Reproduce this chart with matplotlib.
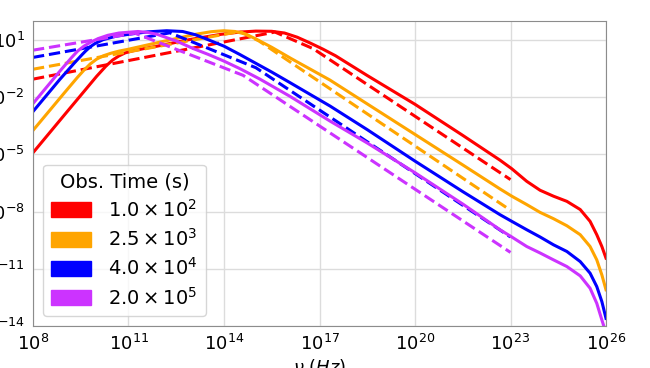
import numpy as np
import matplotlib
matplotlib.use('Agg')
import matplotlib.pyplot as plt
from matplotlib.patches import Patch

# values, as log10(nu) and log10(F)
times = ['$1.0 \\times 10^{2}$', '$2.5 \\times 10^{3}$', '$4.0 \\times 10^{4}$', '$2.0 \\times 10^{5}$']
colors = ['#ff0000', '#ffa500', '#0000ff', '#cc33ff']

# solid curves (full model)
lnu_red = [8.0, 9.0, 9.8, 10.0, 10.3, 10.5, 10.7, 10.9, 11.15, 11.5, 11.9, 12.9, 13.9, 14.5, 15.0, 15.5,
           15.9, 16.3, 16.7, 17.1, 17.5, 18.5, 20.0, 21.5, 22.67, 23.04, 23.51, 23.93, 24.35, 24.77,
           25.19, 25.5, 25.71, 25.87, 26.0]
lf_red = [-4.91, -2.9, -1.3, -0.9, -0.35, -0.05, 0.17, 0.33, 0.44, 0.56, 0.68, 1.02, 1.3, 1.42, 1.47, 1.46,
          1.37, 1.15, 0.85, 0.53, 0.18, -0.86, -2.37, -4.0, -5.30, -5.75, -6.41, -6.88, -7.19, -7.46,
          -7.89, -8.51, -9.21, -9.83, -10.44]

lnu_orange = [8.0, 9.0, 9.4, 9.6, 9.8, 10.0, 10.2, 10.45, 10.7, 11.0, 11.9, 12.5, 13.1, 13.6, 14.0, 14.35,
              14.7, 15.0, 15.5, 16.1, 17.33, 18.5, 20.0, 21.5, 22.67, 23.04, 23.51, 23.93, 24.35, 24.77,
              25.19, 25.5, 25.71, 25.87, 26.0]
lf_orange = [-3.74, -1.74, -0.95, -0.58, -0.25, 0.0, 0.17, 0.31, 0.42, 0.52, 0.86, 1.08, 1.30, 1.44, 1.49, 1.45,
             1.3, 1.06, 0.62, 0.04, -1.1, -2.35, -3.95, -5.55, -6.81, -7.19, -7.63, -8.04, -8.37, -8.74,
             -9.21, -9.83, -10.53, -11.32, -12.1]

lnu_blue = [8.0, 8.85, 9.3, 9.55, 9.65, 9.8, 9.95, 10.2, 10.6, 11.0, 11.6, 12.2, 12.7, 13.1, 13.5, 14.0,
            14.5, 15.0, 15.5, 16.07, 17.33, 18.5, 20.0, 21.5, 22.67, 23.04, 23.51, 23.93, 24.35, 24.77,
            25.19, 25.5, 25.71, 25.87, 26.0]
lf_blue = [-2.75, -1.05, -0.2, 0.25, 0.42, 0.65, 0.82, 1.02, 1.2, 1.30, 1.43, 1.49, 1.45, 1.28, 1.02, 0.68,
           0.24, -0.22, -0.68, -1.23, -2.46, -3.7, -5.35, -6.95, -8.16, -8.51, -8.95, -9.33, -9.74, -10.09,
           -10.62, -11.23, -11.93, -12.72, -13.6]

lnu_purple = [8.0, 8.85, 9.2, 9.4, 9.6, 9.8, 10.05, 10.35, 10.7, 11.3, 11.6, 11.9, 12.5, 13.04, 13.5, 13.98,
              14.5, 15.13, 16.07, 17.33, 18.5, 20.0, 21.5, 22.67, 23.04, 23.51, 23.93, 24.35, 24.77,
              25.19, 25.5, 25.71, 25.87, 25.93, 25.97]
lf_purple = [-2.33, -0.62, 0.06, 0.42, 0.68, 0.88, 1.08, 1.25, 1.37, 1.45, 1.4, 1.30, 0.95, 0.55, 0.25, -0.09,
             -0.5, -1.05, -1.95, -3.25, -4.4, -5.96, -7.6, -8.95, -9.33, -9.83, -10.17, -10.53, -10.88,
             -11.37, -12.02, -12.81, -13.68, -14.0, -14.3]

# dashed curves (synchrotron only, up to 1e23 Hz)
dnu_red = [8.0, 15.6, 16.8, 23.0]
df_red = [-1.05, 1.42, 0.55, -6.32]
dnu_orange = [8.0, 14.5, 15.1, 23.0]
df_orange = [-0.53, 1.45, 0.95, -7.93]
dnu_blue = [8.0, 12.3, 15.0, 23.0]
df_blue = [0.09, 1.38, -0.45, -9.33]
dnu_purple = [8.0, 11.2, 14.6, 23.0]
df_purple = [0.47, 1.36, -0.85, -10.14]

solid = [(lnu_red, lf_red), (lnu_orange, lf_orange), (lnu_blue, lf_blue), (lnu_purple, lf_purple)]
dashed = [(dnu_red, df_red), (dnu_orange, df_orange), (dnu_blue, df_blue), (dnu_purple, df_purple)]

plt.rcParams['font.size'] = 13

fig = plt.figure(figsize=(6.5, 3.68), dpi=100)
ax = fig.add_axes([33/650, 42/368, 573/650, 305/368])

for (x, y), (xd, yd), c in zip(solid, dashed, colors):
    ax.plot(10**np.array(x), 10**np.array(y), color=c, lw=2.2)
    ax.plot(10**np.array(xd), 10**np.array(yd), color=c, lw=2.2, ls='--')

ax.set_xscale('log')
ax.set_yscale('log')
ax.set_xlim(1e8, 1e26)
ax.set_ylim(1e-14, 1e2)
ax.set_xticks([10.0**k for k in range(8, 27, 3)])
ax.set_yticks([10.0**k for k in range(-14, 2, 3)])
ax.minorticks_off()
ax.tick_params(length=0, pad=6, labelsize=13)
ax.grid(True, color='#dcdcdc', lw=1)
for s in ax.spines.values():
    s.set_color('#8c8c8c')
ax.set_xlabel(r'$\nu\ (Hz)$', fontsize=13, labelpad=2)
ax.set_ylabel(r'$F_\nu$ (mJy)', fontsize=13)

handles = [Patch(color=c, label=t) for c, t in zip(colors, times)]
ax.legend(handles=handles, title='Obs. Time (s)', loc='lower left', fontsize=14, title_fontsize=14,
          labelspacing=0.38, handlelength=2.1, handleheight=0.81, handletextpad=0.88)

fig.savefig('out.png', dpi=100)
